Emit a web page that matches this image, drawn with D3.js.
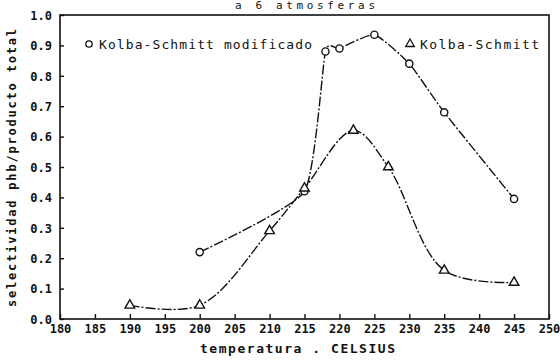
<!DOCTYPE html>
<html>
<head>
<meta charset="utf-8">
<script src="https://cdn.jsdelivr.net/npm/d3@7"></script>
<style>
  body { margin: 0; background: #fff; }
  svg { display: block; }
  text { font-family: "DejaVu Sans Mono", monospace; fill: #111; }
</style>
</head>
<body>
<div id="chart"></div>
<script>
// datos
const modTemp = [200, 215, 218, 220, 225, 230, 235, 245];
const modSel = [0.22, 0.42, 0.88, 0.89, 0.935, 0.84, 0.68, 0.395];
const ksTemp = [190, 200, 210, 215, 222, 227, 235, 245];
const ksSel = [0.045, 0.045, 0.29, 0.43, 0.62, 0.50, 0.16, 0.12];
const xTicks = d3.range(180, 251, 5);
const yTicks = d3.range(0, 1.01, 0.1);

const width = 560, height = 360;
const margin = { top: 15, right: 11, bottom: 41, left: 60 };

const svg = d3.select('#chart').append('svg')
  .attr('width', width)
  .attr('height', height);

const x = d3.scaleLinear().domain([180, 250]).range([margin.left, width - margin.right]);
const y = d3.scaleLinear().domain([0, 1]).range([height - margin.bottom, margin.top]);

// titulo
svg.append('text')
  .attr('x', 235).attr('y', 9)
  .attr('font-size', 11)
  .attr('textLength', 140)
  .attr('lengthAdjust', 'spacing')
  .text('a 6 atmosferas');

// marco
svg.append('rect')
  .attr('x', x(180)).attr('y', y(1))
  .attr('width', x(250) - x(180)).attr('height', y(0) - y(1))
  .attr('fill', 'none').attr('stroke', '#111').attr('stroke-width', 1.6);

// ejes
const xAxis = svg.append('g')
  .attr('transform', `translate(0,${y(0)})`)
  .call(d3.axisBottom(x).tickValues(xTicks).tickSize(-5).tickPadding(9).tickFormat(d3.format('d')));
const yAxis = svg.append('g')
  .attr('transform', `translate(${x(180)},0)`)
  .call(d3.axisLeft(y).tickValues(yTicks).tickSize(-4).tickPadding(8).tickFormat(d3.format('.1f')));

[xAxis, yAxis].forEach(a => {
  a.select('.domain').remove();
  a.selectAll('line').attr('stroke', '#111').attr('stroke-width', 1.4);
  a.selectAll('text')
    .attr('font-family', '"DejaVu Sans Mono", monospace')
    .attr('font-size', 12)
    .attr('font-weight', 'bold')
    .attr('fill', '#111');
});
yAxis.selectAll('text').attr('dy', '0.35em');
xAxis.selectAll('text').attr('dy', '0.4em');

// titulos de ejes
svg.append('text')
  .attr('x', 200).attr('y', 353)
  .attr('font-size', 13)
  .attr('font-weight', 'bold')
  .attr('textLength', 195)
  .attr('lengthAdjust', 'spacing')
  .text('temperatura . CELSIUS');

svg.append('text')
  .attr('transform', `translate(16,${(margin.top + 305) / 2 + 8}) rotate(-90)`)
  .attr('text-anchor', 'middle')
  .attr('font-size', 12)
  .attr('font-weight', 'bold')
  .attr('textLength', 278)
  .attr('lengthAdjust', 'spacing')
  .text('selectividad phb/producto total');

// curvas
const lineMod = d3.line()
  .x(d => x(d[0]))
  .y(d => y(d[1]))
  .curve(d3.curveCardinal.tension(0.5));
const lineKs = d3.line()
  .x(d => x(d[0]))
  .y(d => y(d[1]))
  .curve(d3.curveCatmullRom);

const modData = modTemp.map((t, i) => [t, modSel[i]]);
const ksData = ksTemp.map((t, i) => [t, ksSel[i]]);

[[modData, lineMod], [ksData, lineKs]].forEach(([data, line]) => {
  svg.append('path')
    .datum(data)
    .attr('d', line)
    .attr('fill', 'none')
    .attr('stroke', '#111')
    .attr('stroke-width', 1.4)
    .attr('stroke-dasharray', '10,2,2,2');
});

// marcadores
svg.selectAll('.circ')
  .data(modData)
  .enter()
  .append('circle')
  .attr('class', 'circ')
  .attr('cx', d => x(d[0]))
  .attr('cy', d => y(d[1]))
  .attr('r', 3.6)
  .attr('fill', '#fff')
  .attr('stroke', '#111')
  .attr('stroke-width', 1.4);

const tri = d3.symbol().type(d3.symbolTriangle).size(40);
svg.selectAll('.tri')
  .data(ksData)
  .enter()
  .append('path')
  .attr('class', 'tri')
  .attr('transform', d => `translate(${x(d[0])},${y(d[1])})`)
  .attr('d', tri)
  .attr('fill', '#fff')
  .attr('stroke', '#111')
  .attr('stroke-width', 1.4);

// leyenda
const legend = [
  { sym: 'circle', label: 'Kolba-Schmitt modificado', x: 89, len: 213 },
  { sym: 'triangle', label: 'Kolba-Schmitt', x: 410, len: 119 }
];
legend.forEach(l => {
  const g = svg.append('g').attr('transform', `translate(${l.x},44)`);
  if (l.sym === 'circle') {
    g.append('circle').attr('r', 3.2).attr('fill', '#fff').attr('stroke', '#111').attr('stroke-width', 1.3);
  } else {
    g.append('path').attr('d', d3.symbol().type(d3.symbolTriangle).size(32)).attr('fill', '#fff').attr('stroke', '#111').attr('stroke-width', 1.3);
  }
  g.append('text')
    .attr('x', 10).attr('dy', '0.35em')
    .attr('font-size', 13)
    .attr('textLength', l.len)
    .attr('lengthAdjust', 'spacing')
    .text(l.label);
});
</script>
</body>
</html>
